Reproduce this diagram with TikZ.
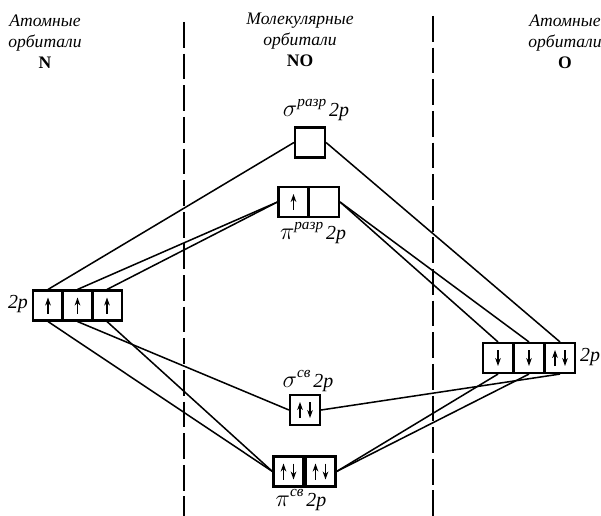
\documentclass[tikz,border=0pt]{standalone}
\usepackage{fontspec}
\setmainfont{Liberation Serif}
\usepackage{tikz}
\usetikzlibrary{arrows.meta}

\newcommand\spinup[2][0]{\draw[spin] (#2.center) ++(#1,8) -- ++(0,-16);}
\newcommand\spindn[2][0]{\draw[spin] (#2.center) ++(#1,-8) -- ++(0,16);}
\newcommand\orblabel[2]{{\fontsize{22}{22}\selectfont$#1$}\raisebox{1.2ex}{\fontsize{13}{13}\selectfont\itshape #2}\,{\fontsize{17}{17}\selectfont\itshape 2p}}

\begin{document}
\begin{tikzpicture}[x=0.03cm, y=-0.03cm, every node/.style={font=\fontsize{15}{18}\selectfont},
	cell/.style={draw, line width=1.8pt, minimum width=0.9cm, minimum height=0.9cm, inner sep=0pt},
	spin/.style={line width=1pt, -{Stealth[length=2.4mm, width=1.7mm]}},
	link/.style={line width=1.3pt},
	divider/.style={line width=2.4pt, dash pattern=on 22pt off 5pt}]
	\useasboundingbox (0,0) rectangle (601,516);
	% headers
	\node[align=center, anchor=north] (hN) at (45,11) {\itshape Атомные\\\itshape орбитали\\\bfseries N};
	\node[align=center, anchor=north] (hNO) at (300,9) {\itshape Молекулярные\\\itshape орбитали\\\bfseries NO};
	\node[align=center, anchor=north] (hO) at (565,11) {\itshape Атомные\\\itshape орбитали\\\bfseries O};
	\draw[divider] (184,22) -- (184,516);
	\draw[divider] (433,16) -- (433,516);
	% atomic orbitals N
	\node[cell] (n1) at (48,305.5) {};
	\node[cell] (n2) at (77.5,305.5) {};
	\node[cell] (n3) at (107,305.5) {};
	\node (ln) at (18,304) {\fontsize{17}{17}\selectfont\itshape 2p};
	% atomic orbitals O
	\node[cell] (o1) at (498,358) {};
	\node[cell] (o2) at (529,358) {};
	\node[cell] (o3) at (560,358) {};
	\node (lo) at (590,357) {\fontsize{17}{17}\selectfont\itshape 2p};
	% molecular orbitals NO
	\node[cell] (sa) at (310,142.5) {};
	\node (lsa) at (316,110) {\orblabel{\sigma}{разр}};
	\node[cell] (pa1) at (293.5,202) {};
	\node[cell] (pa2) at (324,202) {};
	\node (lpa) at (313,233) {\orblabel{\pi}{разр}};
	\node[cell] (sb) at (305,410) {};
	\node (lsb) at (308,381) {\orblabel{\sigma}{св}};
	\node[cell] (pb1) at (288.5,471.5) {};
	\node[cell] (pb2) at (320.5,471.5) {};
	\node (lpb) at (301,500) {\orblabel{\pi}{св}};
	% electrons
	\spinup{n1} \spinup{n2} \spinup{n3}
	\spindn{o1} \spindn{o2} \spinup[-5]{o3} \spindn[5]{o3}
	\spinup{pa1}
	\spinup[-5]{sb} \spindn[5]{sb}
	\spinup[-5]{pb1} \spindn[5]{pb1}
	\spinup[-5]{pb2} \spindn[5]{pb2}
	% correlation lines
	\draw[link] (n1.north) -- (sa.west);
	\draw[link] (n2.north) -- (pa1.west);
	\draw[link] (n3.north) -- (pa1.west);
	\draw[link] (n1.south) -- (pb1.west);
	\draw[link] (n2.south) -- (sb.west);
	\draw[link] (n3.south) -- (pb1.west);
	\draw[link] (o3.north) -- (sa.east);
	\draw[link] (o1.north) -- (pa2.east);
	\draw[link] (o2.north) -- (pa2.east);
	\draw[link] (o1.south) -- (pb2.east);
	\draw[link] (o2.south) -- (pb2.east);
	\draw[link] (o3.south) -- (sb.east);
\end{tikzpicture}
\end{document}
